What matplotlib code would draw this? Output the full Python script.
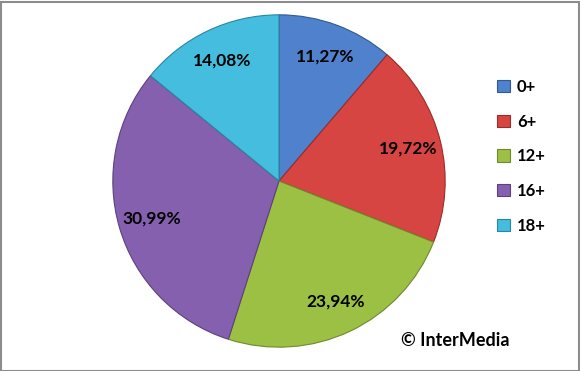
import matplotlib.pyplot as plt
from matplotlib.patches import Rectangle

plt.rcParams['font.family'] = ['Lato', 'DejaVu Sans']

categorias = ['0+', '6+', '12+', '16+', '18+']
valores = [11.27, 19.72, 23.94, 30.99, 14.08]
cores = ['#4F81CD', '#D64541', '#9CC043', '#8560AE', '#45BDDE']
bordas = ['#2F5A94', '#9A2C29', '#6E8A2C', '#5C417C', '#2A86A0']

fig = plt.figure(figsize=(5.8, 3.71), dpi=100)

# centro do pizza em (279, 181) px, raio 167 px
cx, cy, r = 279, 181, 167
W, H = 580, 371
ax = fig.add_axes([(cx - r) / W, (H - cy - r) / H, 2 * r / W, 2 * r / H])

wedges, textos, pcts = ax.pie(valores, colors=cores, startangle=90, counterclock=False,
                              autopct=lambda p: f'{p:.2f}%'.replace('.', ','),
                              pctdistance=0.8,
                              wedgeprops=dict(linewidth=0.8))
for w, b in zip(wedges, bordas):
    w.set_edgecolor(b)
for t in pcts:
    t.set_fontsize(12.5)
    t.set_fontweight('bold')
    t.set_color('black')
ax.set_xlim(-1.005, 1.005)
ax.set_ylim(-1.005, 1.005)
ax.set_aspect('equal')

# legenda
handles = [Rectangle((0, 0), 1, 1, facecolor=c, edgecolor=b, linewidth=0.8) for c, b in zip(cores, bordas)]
leg = fig.legend(handles, categorias, loc='upper left', bbox_to_anchor=(497 / W, 1 - 79 / H),
                 frameon=False, handlelength=0.75, handleheight=0.75, handletextpad=0.45,
                 labelspacing=1.12, borderaxespad=0, borderpad=0,
                 prop=dict(size=12, weight='bold'))

fig.text(401 / W, 1 - 341 / H, '© InterMedia', fontsize=13, fontweight='bold', va='center')

# moldura
fig.patches.append(Rectangle((0.5 / W, 0.5 / H), 1 - 2 / W, 1 - 2 / H, transform=fig.transFigure,
                             fill=False, edgecolor='#8C8C8C', linewidth=1.5))

fig.savefig('out.png', dpi=100)
